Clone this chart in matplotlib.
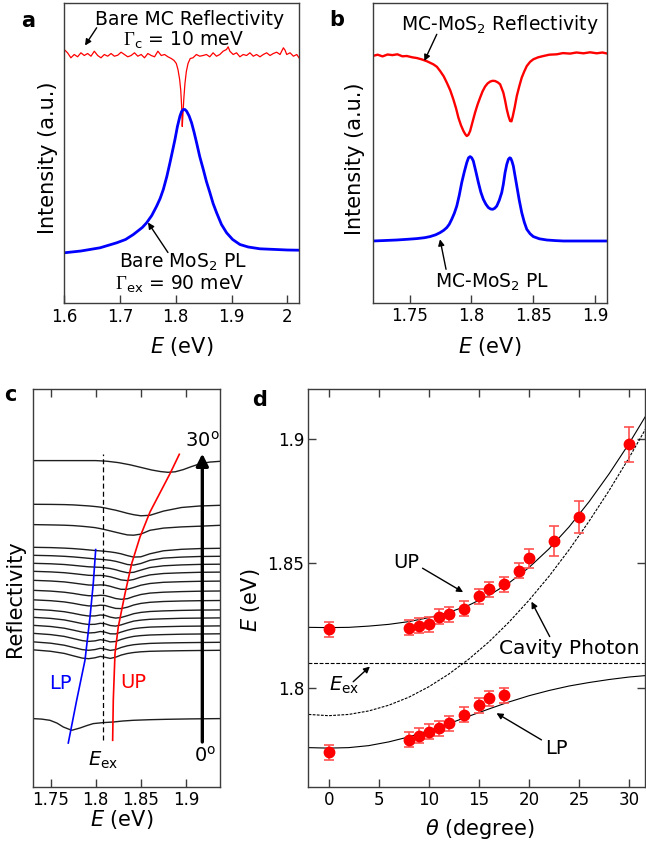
import numpy as np
import matplotlib
matplotlib.use('Agg')
import matplotlib.pyplot as plt

plt.rcParams['font.family'] = ['DejaVu Sans']
plt.rcParams['mathtext.fontset'] = 'custom'
plt.rcParams['mathtext.rm'] = 'DejaVu Sans'
plt.rcParams['mathtext.it'] = 'DejaVu Sans:italic'
plt.rcParams['mathtext.bf'] = 'DejaVu Sans:bold'
plt.rcParams['mathtext.cal'] = 'Liberation Serif'

# ---- panel a : bare microcavity reflectivity and bare MoS2 PL
a_E_refl = [1.600, 1.606, 1.612, 1.618, 1.624, 1.630, 1.636, 1.642, 1.648, 1.654,
            1.660, 1.666, 1.672, 1.678, 1.684, 1.690, 1.696, 1.702, 1.708, 1.714,
            1.720, 1.726, 1.732, 1.738, 1.744, 1.750, 1.756, 1.762, 1.768, 1.774,
            1.780, 1.786, 1.792, 1.797, 1.801, 1.804, 1.807, 1.809, 1.8105, 1.8117,
            1.813, 1.8145, 1.8165, 1.819, 1.822, 1.826, 1.831, 1.837, 1.843, 1.849,
            1.855, 1.861, 1.867, 1.873, 1.879, 1.885, 1.891, 1.894, 1.897, 1.903,
            1.909, 1.915, 1.921, 1.927, 1.933, 1.939, 1.945, 1.951, 1.957, 1.963,
            1.969, 1.975, 1.981, 1.987, 1.993, 1.996, 1.999, 2.005, 2.011, 2.017, 2.021]
a_R_refl = [254.0, 250.7, 245.7, 249.0, 246.7, 250.7, 248.0, 250.0, 247.3, 252.3,
            248.0, 245.7, 249.0, 247.3, 250.0, 247.3, 248.3, 251.3, 249.0, 246.7,
            248.0, 250.7, 247.3, 249.0, 245.7, 250.0, 248.0, 246.7, 252.3, 248.0,
            249.0, 246.7, 245.0, 243.0, 240.0, 234.0, 224.0, 213.0, 198.0, 177.0,
            190.0, 205.0, 220.0, 232.0, 240.0, 245.0, 245.7, 249.0, 247.3, 248.0,
            249.0, 246.7, 250.7, 247.3, 249.0, 252.3, 254.0, 256.7, 252.3, 249.0,
            250.7, 246.7, 249.0, 248.0, 250.7, 247.3, 249.0, 246.7, 249.0, 250.7,
            248.0, 250.0, 251.3, 249.0, 255.7, 253.3, 249.0, 250.7, 247.3, 249.0, 245.7]
a_E_pl = [1.6000, 1.6300, 1.6642, 1.6941, 1.7100, 1.7240, 1.7400, 1.7478, 1.7570, 1.7657,
          1.7720, 1.7777, 1.7840, 1.7896, 1.7940, 1.7986, 1.8030, 1.8075, 1.8105, 1.8135,
          1.8165, 1.8195, 1.8240, 1.8284, 1.8330, 1.8374, 1.8430, 1.8494, 1.8550, 1.8613,
          1.8670, 1.8733, 1.8820, 1.8912, 1.9020, 1.9151, 1.9300, 1.9509, 1.9800, 2.0000, 2.0210]
a_I_pl = [50.7, 52.5, 55.7, 60.7, 64.0, 69.0, 76.0, 80.7, 88.0, 97.3,
          105.0, 114.0, 127.0, 140.7, 152.0, 164.0, 177.0, 187.3, 192.0, 194.0,
          194.0, 192.3, 187.5, 180.7, 171.0, 160.7, 147.0, 134.0, 122.0, 110.7,
          100.0, 90.7, 79.0, 70.7, 64.0, 59.0, 56.5, 54.7, 54.0, 53.5, 53.3]

# ---- panel b : MC-MoS2 reflectivity and PL
b_E_refl = [1.7200, 1.7240, 1.7280, 1.7320, 1.7360, 1.7400, 1.7440, 1.7476, 1.7520, 1.7560,
            1.7600, 1.7640, 1.7691, 1.7720, 1.7746, 1.7775, 1.7800, 1.7828, 1.7853, 1.7875,
            1.7894, 1.7915, 1.7935, 1.7950, 1.7962, 1.7975, 1.7989, 1.8010, 1.8029, 1.8050,
            1.8070, 1.8090, 1.8110, 1.8130, 1.8151, 1.8170, 1.8191, 1.8212, 1.8232, 1.8258,
            1.8272, 1.8286, 1.8300, 1.8313, 1.8324, 1.8335, 1.8350, 1.8367, 1.8387, 1.8407,
            1.8428, 1.8448, 1.8475, 1.8501, 1.8540, 1.8583, 1.8630, 1.8691, 1.8740, 1.8799,
            1.8850, 1.8907, 1.8960, 1.9015, 1.9060, 1.9101]
b_R_refl = [247.3, 248.6, 246.9, 248.8, 248.2, 249.0, 247.0, 247.3, 246.0, 245.2,
            243.8, 242.0, 239.0, 236.5, 232.3, 227.0, 220.7, 213.0, 204.0, 195.0,
            185.7, 178.0, 172.3, 169.0, 167.3, 168.5, 172.3, 182.0, 190.7, 199.0,
            205.7, 212.0, 216.7, 219.8, 221.7, 222.5, 222.3, 221.0, 219.0, 210.7,
            203.0, 194.0, 187.0, 182.3, 182.0, 187.3, 196.0, 207.3, 217.0, 225.7,
            232.0, 237.3, 241.5, 244.0, 246.0, 247.3, 248.6, 249.0, 250.2, 249.7,
            250.8, 250.0, 251.0, 250.0, 250.8, 249.7]
b_E_pl = [1.7200, 1.7300, 1.7394, 1.7480, 1.7557, 1.7620, 1.7664, 1.7710, 1.7746, 1.7775,
          1.7800, 1.7820, 1.7840, 1.7861, 1.7881, 1.7901, 1.7921, 1.7942, 1.7962, 1.7976,
          1.7989, 1.8002, 1.8015, 1.8035, 1.8056, 1.8076, 1.8096, 1.8117, 1.8137, 1.8155,
          1.8172, 1.8188, 1.8205, 1.8225, 1.8245, 1.8258, 1.8272, 1.8286, 1.8299, 1.8310,
          1.8318, 1.8328, 1.8339, 1.8352, 1.8367, 1.8387, 1.8407, 1.8428, 1.8448, 1.8475,
          1.8501, 1.8550, 1.8610, 1.8680, 1.8745, 1.8907, 1.9101]
b_I_pl = [62.3, 62.8, 63.3, 64.0, 64.7, 65.6, 66.7, 68.5, 70.7, 73.0,
          75.7, 79.0, 84.0, 90.0, 97.3, 108.0, 120.7, 131.5, 140.7, 145.5,
          146.7, 145.5, 142.3, 132.0, 120.7, 111.0, 104.0, 99.0, 95.7, 94.3,
          94.0, 95.0, 97.3, 103.0, 110.7, 119.0, 130.7, 139.0, 144.0, 145.5,
          145.0, 142.0, 137.3, 128.0, 117.3, 103.0, 90.7, 81.0, 74.0, 69.5,
          66.7, 64.5, 63.3, 62.7, 62.3, 62.3, 62.3]

# ---- panel c : angle resolved reflectivity (offset traces)
c_E_30 = [1.730, 1.770, 1.800, 1.812, 1.825, 1.838, 1.850, 1.862, 1.872, 1.880,
          1.888, 1.897, 1.906, 1.915, 1.926, 1.938]
c_dip_30 = [0, 0, 0, 0.6, 2.0, 4.2, 6.8, 9.4, 11.0, 11.7, 11.2, 9.0, 6.0, 3.3, 1.5, 0.7]
c_E_0 = [1.7304, 1.740, 1.7492, 1.757, 1.764, 1.7733, 1.7825, 1.790, 1.7972, 1.8083,
         1.8194, 1.830, 1.8416, 1.860, 1.8786, 1.905, 1.9377]
c_dip_0 = [0, 0.5, 1.7, 4.5, 8.4, 11.7, 9.4, 7.0, 5.0, 4.0, 3.4, 2.4, 1.7, 1.1, 0.7, 0.3, 0]
c_E_grid = [1.730, 1.750, 1.765, 1.775, 1.785, 1.792, 1.799, 1.805, 1.810, 1.816,
            1.822, 1.828, 1.835, 1.842, 1.850, 1.860, 1.875, 1.895, 1.915, 1.938]
c_dips = [
    [0, 0.1, 0.3, 0.6, 1.2, 1.6, 2.2, 2.8, 3.6, 4.8, 5.9, 7.3, 9.0, 10.4, 11.5, 11.0, 6.8, 3.2, 1.7, 1.0],
    [0, 0.3, 0.6, 1.0, 1.7, 2.3, 3.0, 4.0, 5.0, 6.3, 7.6, 8.9, 10.3, 10.6, 9.5, 5.7, 3.5, 2.3, 1.6, 0.7],
    [0, 0.3, 0.8, 1.3, 2.0, 2.6, 3.2, 3.6, 4.0, 4.6, 5.4, 6.5, 8.3, 9.8, 9.5, 6.5, 3.5, 2.0, 1.3, 1.0],
    [0, 0.4, 1.0, 1.6, 2.4, 3.0, 3.6, 4.0, 4.4, 5.0, 6.0, 7.4, 9.2, 9.8, 8.2, 5.0, 2.8, 1.8, 1.2, 1.0],
    [0, 0.5, 1.2, 2.0, 2.9, 3.5, 3.8, 4.0, 4.4, 5.2, 6.4, 8.0, 9.4, 9.0, 6.8, 4.2, 2.5, 1.6, 1.1, 0.9],
    [0, 0.6, 1.4, 2.3, 3.3, 4.0, 4.2, 4.1, 4.5, 5.5, 7.0, 8.6, 9.3, 8.2, 5.8, 3.6, 2.2, 1.5, 1.0, 0.8],
    [0, 0.7, 1.6, 2.7, 3.9, 4.7, 4.9, 4.6, 4.8, 6.0, 7.6, 9.0, 9.0, 7.2, 4.9, 3.2, 2.0, 1.4, 1.0, 0.8],
    [0, 0.8, 1.9, 3.1, 4.6, 5.4, 5.5, 5.0, 5.2, 6.6, 8.2, 9.0, 8.4, 6.2, 4.2, 2.8, 1.9, 1.3, 0.9, 0.7],
    [0, 0.9, 2.1, 3.5, 5.2, 6.1, 6.1, 5.4, 5.6, 7.2, 8.6, 8.8, 7.4, 5.2, 3.6, 2.5, 1.7, 1.2, 0.9, 0.7],
    [0, 1.0, 2.4, 4.0, 5.8, 6.7, 6.6, 5.7, 6.0, 7.8, 8.8, 8.2, 6.4, 4.4, 3.1, 2.2, 1.6, 1.1, 0.8, 0.6],
    [0, 1.1, 2.6, 4.4, 6.3, 7.2, 7.0, 6.0, 6.4, 8.2, 8.8, 7.6, 5.6, 3.8, 2.8, 2.0, 1.5, 1.0, 0.8, 0.6],
    [0, 1.2, 2.9, 4.8, 6.8, 7.7, 7.3, 6.2, 6.8, 8.5, 8.6, 6.8, 4.9, 3.4, 2.5, 1.8, 1.4, 1.0, 0.8, 0.6],
    [0, 1.3, 3.1, 5.2, 7.3, 8.1, 7.6, 6.4, 7.0, 8.6, 8.2, 6.2, 4.4, 3.1, 2.3, 1.7, 1.3, 0.9, 0.7, 0.5],
    [0, 1.4, 3.4, 5.6, 7.8, 8.5, 7.8, 6.5, 7.2, 8.6, 7.8, 5.7, 4.0, 2.9, 2.2, 1.6, 1.2, 0.9, 0.7, 0.5],
    [0, 1.5, 3.6, 6.0, 8.3, 8.9, 8.0, 6.6, 7.4, 8.6, 7.4, 5.3, 3.7, 2.7, 2.0, 1.5, 1.2, 0.9, 0.7, 0.5],
]
# offsets of the traces (30 deg trace first, 0 deg trace last)
c_offset_30 = 326.7
c_offsets = [283.0, 262.7, 240.0, 232.0, 224.0, 216.0, 207.0, 197.0, 187.5,
             178.0, 170.0, 162.0, 154.0, 145.5, 137.5]
c_offset_0 = 68.7
c_lp_E = [1.7999, 1.7972, 1.7936, 1.7880, 1.7788, 1.7695]
c_lp_y = [237.7, 203.7, 170.3, 127.0, 87.0, 44.3]
c_up_E = [1.8926, 1.8823, 1.8601, 1.8490, 1.8398, 1.8324, 1.8249, 1.8213, 1.8194, 1.8187]
c_up_y = [333.0, 313.7, 275.3, 250.3, 223.7, 193.7, 160.3, 133.7, 87.0, 47.0]
E_ex = 1.8076

# ---- panel d : dispersion
theta_up = [0, 8, 9, 10, 11, 12, 13.5, 15, 16, 17.5, 19, 20, 22.5, 25, 30]
E_up = [1.8236, 1.8242, 1.8250, 1.8256, 1.8287, 1.8296, 1.8319, 1.8369, 1.8396, 1.8417,
        1.8470, 1.8520, 1.8590, 1.8686, 1.8977]
err_up = [0.003, 0.003, 0.003, 0.003, 0.003, 0.003, 0.003, 0.003, 0.003, 0.003,
          0.003, 0.004, 0.006, 0.0065, 0.007]
theta_lp = [0, 8, 9, 10, 11, 12, 13.5, 15, 16, 17.5]
E_lp = [1.7744, 1.7793, 1.7809, 1.7826, 1.7840, 1.7860, 1.7893, 1.7931, 1.7960, 1.7971]
err_lp = [0.003, 0.003, 0.003, 0.003, 0.003, 0.003, 0.003, 0.003, 0.003, 0.003]
theta_fit = [-2, 0, 2, 4, 6, 8, 10, 12, 14, 16, 18, 20, 22, 24, 26, 28, 30, 32]
up_fit = [1.8244, 1.8243, 1.8244, 1.8249, 1.8256, 1.8267, 1.8283, 1.8304, 1.8333, 1.8372,
          1.8422, 1.8484, 1.8559, 1.8647, 1.8748, 1.8860, 1.8982, 1.9115]
lp_fit = [1.7762, 1.7760, 1.7762, 1.7770, 1.7785, 1.7805, 1.7830, 1.7858, 1.7888, 1.7917,
          1.7945, 1.7970, 1.7991, 1.8009, 1.8023, 1.8035, 1.8045, 1.8052]
cav_fit = [1.7895, 1.7890, 1.7895, 1.7909, 1.7932, 1.7964, 1.8006, 1.8057, 1.8117, 1.8186,
           1.8265, 1.8353, 1.8449, 1.8555, 1.8670, 1.8793, 1.8925, 1.9065]
E_ex_d = 1.810

SPINE = '#3c3c3c'
TICK_FS = 12
LAB_FS = 15
ANN_FS = 13.5
W, H = 646, 844


def px_axes(l, t, r, b):
    return [l / W, 1 - b / H, (r - l) / W, (b - t) / H]


def style(ax, top=False, right=False, left=False):
    for s in ax.spines.values():
        s.set_color(SPINE)
        s.set_linewidth(1.0)
    ax.tick_params(direction='in', length=6, width=1, color=SPINE, labelsize=TICK_FS,
                   top=top, right=right, left=left, labelleft=left, pad=3)


def arrow(ax, tail, tip, lw=1.0, ms=9):
    ax.annotate('', xy=tip, xytext=tail,
                arrowprops=dict(arrowstyle='-|>', color='k', lw=lw, mutation_scale=ms,
                                shrinkA=0, shrinkB=0))


fig = plt.figure(figsize=(6.46, 8.44), dpi=100)

# panel a
ax = fig.add_axes(px_axes(64.2, 3.3, 299, 303.5))
ax.plot(a_E_refl, a_R_refl, color='red', lw=0.9)
ax.plot(a_E_pl, a_I_pl, color='blue', lw=2.0)
ax.set_xlim(1.6, 2.021)
ax.set_ylim(0, 300.2)
ax.set_xticks([1.6, 1.7, 1.8, 1.9, 2.0])
ax.set_xticklabels(['1.6', '1.7', '1.8', '1.9', '2'])
ax.set_yticks([])
style(ax)
ax.set_xlabel(r'$E$ (eV)', fontsize=LAB_FS)
ax.xaxis.set_label_coords(0.5, -0.105)
ax.set_ylabel('Intensity (a.u.)', fontsize=LAB_FS)
ax.yaxis.set_label_coords(-0.025, 0.484)
ax.text(1.8255, 284, 'Bare MC Reflectivity', fontsize=ANN_FS, ha='center', va='center')
ax.text(1.8129, 263, r'$\mathcal{\Gamma}_{\mathrm{c}}$ = 10 meV', fontsize=ANN_FS, ha='center', va='center')
arrow(ax, (1.6582, 275.7), (1.6373, 258))
ax.text(1.8129, 41, r'Bare MoS$_2$ PL', fontsize=ANN_FS, ha='center', va='center')
ax.text(1.8075, 19, r'$\mathcal{\Gamma}_{\mathrm{ex}}$ = 90 meV', fontsize=ANN_FS, ha='center', va='center')
arrow(ax, (1.786, 51), (1.7502, 81))
fig.text(28 / W, 1 - 21 / H, 'a', fontsize=15, fontweight='bold', ha='center', va='center')

# panel b
ax = fig.add_axes(px_axes(372.7, 3.3, 607.3, 303.3))
ax.plot(b_E_refl, b_R_refl, color='red', lw=1.7)
ax.plot(b_E_pl, b_I_pl, color='blue', lw=2.0)
ax.set_xlim(1.72, 1.91)
ax.set_ylim(0, 300)
ax.set_xticks([1.75, 1.8, 1.85, 1.9])
ax.set_xticklabels(['1.75', '1.8', '1.85', '1.9'])
ax.set_yticks([])
style(ax)
ax.set_xlabel(r'$E$ (eV)', fontsize=LAB_FS)
ax.xaxis.set_label_coords(0.5, -0.105)
ax.set_ylabel('Intensity (a.u.)', fontsize=LAB_FS)
ax.yaxis.set_label_coords(-0.033, 0.482)
ax.text(1.8232, 279, r'MC-MoS$_2$ Reflectivity', fontsize=ANN_FS, ha='center', va='center')
arrow(ax, (1.7719, 269), (1.7618, 242.3))
ax.text(1.8164, 20.7, r'MC-MoS$_2$ PL', fontsize=ANN_FS, ha='center', va='center')
arrow(ax, (1.7794, 34), (1.7745, 64))
fig.text(337 / W, 1 - 20 / H, 'b', fontsize=15, fontweight='bold', ha='center', va='center')

# panel c
ax = fig.add_axes(px_axes(33, 389.3, 220, 787.3))
trace_kw = dict(color='#1e1e1e', lw=1.0)
ax.plot(c_E_30, c_offset_30 - np.array(c_dip_30), **trace_kw)
for off, dip in zip(c_offsets, c_dips):
    ax.plot(c_E_grid, off - np.array(dip), **trace_kw)
ax.plot(c_E_0, c_offset_0 - np.array(c_dip_0), **trace_kw)
ax.plot([E_ex, E_ex], [47, 333], color='k', lw=0.9, ls=(0, (4, 2.5)))
ax.plot(c_lp_E, c_lp_y, color='blue', lw=1.2)
ax.plot(c_up_E, c_up_y, color='red', lw=1.2)
arrow(ax, (1.9181, 45.3), (1.9181, 333.7), lw=2.4, ms=18)
ax.set_xlim(1.7304, 1.9377)
ax.set_ylim(0, 398)
ax.set_xticks([1.75, 1.8, 1.85, 1.9])
ax.set_xticklabels(['1.75', '1.8', '1.85', '1.9'])
ax.set_yticks([])
style(ax, top=True)
ax.set_xlabel(r'$E$ (eV)', fontsize=LAB_FS)
ax.xaxis.set_label_coords(0.475, -0.053)
ax.set_ylabel('Reflectivity', fontsize=LAB_FS)
ax.yaxis.set_label_coords(-0.043, 0.473)
ax.text(1.7603, 104, 'LP', color='blue', fontsize=14, ha='center', va='center')
ax.text(1.8416, 104.3, 'UP', color='red', fontsize=14, ha='center', va='center')
ax.text(1.8083, 27, r'$E_{\mathrm{ex}}$', fontsize=14, ha='center', va='center')
ax.text(1.9181, 347, r'30$^{\mathrm{o}}$', fontsize=14, ha='center', va='center')
ax.text(1.9211, 32, r'0$^{\mathrm{o}}$', fontsize=14, ha='center', va='center')
fig.text(10 / W, 1 - 395 / H, 'c', fontsize=15, fontweight='bold', ha='center', va='center')

# panel d
ax = fig.add_axes(px_axes(308.3, 389.3, 645.3, 787.3))
ax.plot(theta_fit, up_fit, color='k', lw=0.8)
ax.plot(theta_fit, lp_fit, color='k', lw=0.8)
ax.plot(theta_fit, cav_fit, color='k', lw=0.8, ls=(0, (2.5, 1.2)))
ax.axhline(E_ex_d, color='k', lw=0.8, ls=(0, (3.5, 1.5)))
ax.errorbar(theta_up, E_up, yerr=err_up, fmt='o', color='red', ms=7.5, ecolor='#ff5050',
            elinewidth=1.2, capsize=3.5, capthick=1.2, zorder=3)
ax.errorbar(theta_lp, E_lp, yerr=err_lp, fmt='o', color='red', ms=7.5, ecolor='#ff5050',
            elinewidth=1.2, capsize=3.5, capthick=1.2, zorder=3)
ax.set_xlim(-2.03, 31.6)
ax.set_ylim(1.7603, 1.9198)
ax.set_xticks([0, 5, 10, 15, 20, 25, 30])
ax.set_yticks([1.8, 1.85, 1.9])
ax.set_yticklabels(['1.8', '1.85', '1.9'])
style(ax, top=True, right=True, left=True)
ax.set_xlabel(r'$\theta$ (degree)', fontsize=LAB_FS)
ax.xaxis.set_label_coords(0.508, -0.074)
ax.set_ylabel(r'$E$ (eV)', fontsize=LAB_FS)
ax.yaxis.set_label_coords(-0.138, 0.47)
ax.text(7.78, 1.8503, 'UP', fontsize=14, ha='center', va='center')
arrow(ax, (9.37, 1.8481), (13.42, 1.8385))
ax.text(24.06, 1.8160, 'Cavity Photon', fontsize=14.5, ha='center', va='center')
arrow(ax, (22.06, 1.8207), (20.24, 1.8347))
ax.text(22.73, 1.7760, 'LP', fontsize=14, ha='center', va='center')
arrow(ax, (21.24, 1.7793), (16.75, 1.7900))
ax.text(1.5, 1.8010, r'$E_{\mathrm{ex}}$', fontsize=14, ha='center', va='center')
arrow(ax, (2.45, 1.8026), (4.12, 1.8087))
fig.text(260 / W, 1 - 400 / H, 'd', fontsize=15, fontweight='bold', ha='center', va='center')

fig.savefig('out.png', dpi=100)
